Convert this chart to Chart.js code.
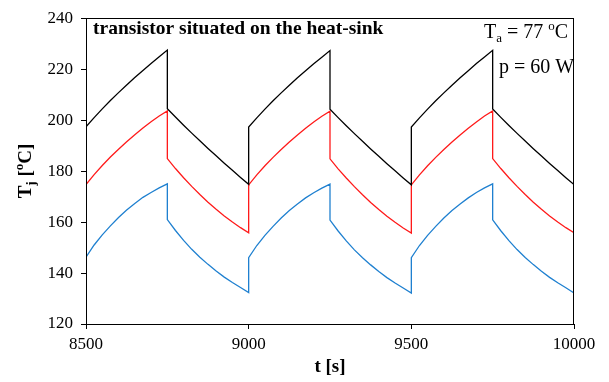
<!DOCTYPE html>
<html>
<head>
<meta charset="utf-8">
<script src="https://cdn.jsdelivr.net/npm/chart.js@4.4.1/dist/chart.umd.min.js"></script>
<style>
  html, body { margin: 0; padding: 0; background: #fff; }
  #wrap { width: 609px; height: 382px; }
</style>
</head>
<body>
<div id="wrap"><canvas id="TjChart" width="609" height="382"></canvas></div>
<script>
// time points [s], duplicated where the power switches (vertical jumps)
const times = [
  8500,
  8500, 8525, 8550, 8575, 8600, 8625, 8650, 8675, 8700, 8725, 8750,
  8750, 8775, 8800, 8825, 8850, 8875, 8900, 8925, 8950, 8975, 9000,
  9000, 9025, 9050, 9075, 9100, 9125, 9150, 9175, 9200, 9225, 9250,
  9250, 9275, 9300, 9325, 9350, 9375, 9400, 9425, 9450, 9475, 9500,
  9500, 9525, 9550, 9575, 9600, 9625, 9650, 9675, 9700, 9725, 9750,
  9750, 9775, 9800, 9825, 9850, 9875, 9900, 9925, 9950, 9975, 10000
];

// junction temperature [oC]
const blackTj = [
  174.8,
  197.4, 201.0, 204.4, 207.7, 210.8, 213.8, 216.7, 219.5, 222.2, 224.9, 227.5,
  204.5, 201.2, 198.0, 194.9, 191.9, 188.9, 186.0, 183.1, 180.3, 177.5, 174.8,
  197.3, 200.9, 204.3, 207.6, 210.7, 213.7, 216.6, 219.4, 222.1, 224.7, 227.3,
  204.3, 201.0, 197.8, 194.7, 191.7, 188.7, 185.8, 182.9, 180.1, 177.3, 174.6,
  197.3, 200.9, 204.3, 207.6, 210.7, 213.7, 216.6, 219.4, 222.2, 224.8, 227.4,
  204.4, 201.1, 197.9, 194.8, 191.8, 188.8, 185.9, 183.0, 180.2, 177.4, 174.7
];
const redTj = [
  158.8,
  174.7, 178.6, 182.2, 185.5, 188.6, 191.5, 194.3, 196.9, 199.4, 201.6, 203.6,
  184.9, 181.0, 177.4, 174.0, 170.8, 167.8, 165.0, 162.4, 160.0, 157.8, 155.8,
  174.6, 178.5, 182.1, 185.4, 188.5, 191.4, 194.2, 196.8, 199.3, 201.5, 203.5,
  184.8, 180.9, 177.3, 173.9, 170.7, 167.7, 164.9, 162.3, 159.9, 157.7, 155.7,
  174.6, 178.5, 182.1, 185.4, 188.5, 191.4, 194.2, 196.8, 199.3, 201.6, 203.6,
  184.9, 181.0, 177.4, 174.0, 170.8, 167.8, 165.0, 162.4, 160.0, 157.8, 155.8
];
const blueTj = [
  132.5,
  146.2, 151.0, 155.0, 158.5, 161.8, 164.7, 167.3, 169.7, 171.6, 173.4, 175.0,
  161.0, 156.7, 152.8, 149.3, 146.2, 143.4, 140.8, 138.4, 136.3, 134.3, 132.3,
  146.0, 150.8, 154.8, 158.3, 161.6, 164.5, 167.1, 169.5, 171.5, 173.3, 174.9,
  160.8, 156.5, 152.6, 149.1, 146.0, 143.2, 140.6, 138.2, 136.1, 134.1, 132.1,
  146.0, 150.8, 154.8, 158.3, 161.6, 164.5, 167.1, 169.5, 171.6, 173.4, 175.0,
  160.9, 156.6, 152.7, 149.2, 146.1, 143.3, 140.7, 138.3, 136.2, 134.2, 132.2
];

const xTicks = [8500, 9000, 9500, 10000];
const yTicks = [120, 140, 160, 180, 200, 220, 240];

const SERIF = "'Liberation Serif', 'Times New Roman', serif";

Chart.defaults.font.family = SERIF;
Chart.defaults.color = "#000";

const toPoints = (vals) => vals.map((v, i) => ({ x: times[i], y: v }));

// frame, y-axis title and the text labels inside the plot
const extrasPlugin = {
  id: "extras",
  afterDraw(chart) {
    const ctx = chart.ctx;
    const a = chart.chartArea;
    ctx.save();

    // box round the plot
    ctx.strokeStyle = "#000";
    ctx.lineWidth = 1;
    ctx.strokeRect(Math.round(a.left) + 0.5, Math.round(a.top) + 0.5,
      Math.round(a.right - a.left) - 1, Math.round(a.bottom - a.top));

    ctx.fillStyle = "#000";
    ctx.textBaseline = "alphabetic";

    // y title: Tj [oC], rotated
    const big = "bold 19px " + SERIF;
    const small = "bold 13px " + SERIF;
    const parts = [
      { t: "T", f: big, dy: 0 },
      { t: "j", f: small, dy: 4 },
      { t: " [", f: big, dy: 0 },
      { t: "o", f: small, dy: -8 },
      { t: "C]", f: big, dy: 0 },
    ];
    let total = 0;
    parts.forEach((p) => { ctx.font = p.f; p.w = ctx.measureText(p.t).width; total += p.w; });
    ctx.translate(31, 171);
    ctx.rotate(-Math.PI / 2);
    let px = -total / 2;
    parts.forEach((p) => { ctx.font = p.f; ctx.fillText(p.t, px, p.dy); px += p.w; });
    ctx.setTransform(1, 0, 0, 1, 0, 0);

    // heading inside the plot
    ctx.font = "bold 19.5px " + SERIF;
    ctx.fillText("transistor situated on the heat-sink", 93, 34);

    // Ta = 77 oC
    const reg = "20px " + SERIF;
    const sub = "13px " + SERIF;
    const ta = [
      { t: "T", f: reg, dy: 0 },
      { t: "a", f: sub, dy: 4 },
      { t: " = 77 ", f: reg, dy: 0 },
      { t: "o", f: sub, dy: -8 },
      { t: "C", f: reg, dy: 0 },
    ];
    let tx = 484;
    ta.forEach((p) => { ctx.font = p.f; ctx.fillText(p.t, tx, 38 + p.dy); tx += ctx.measureText(p.t).width; });

    ctx.font = reg;
    ctx.fillText("p = 60 W", 499, 73);

    ctx.restore();
  },
};

new Chart(document.getElementById("TjChart"), {
  type: "line",
  data: {
    datasets: [
      { label: "black", data: toPoints(blackTj), borderColor: "#000000" },
      { label: "red", data: toPoints(redTj), borderColor: "#ff1a1a" },
      { label: "blue", data: toPoints(blueTj), borderColor: "#1f80d0" },
    ],
  },
  options: {
    responsive: false,
    animation: false,
    elements: {
      line: { borderWidth: 1.3, tension: 0, fill: false },
      point: { radius: 0 },
    },
    layout: { padding: { top: 13, right: 35, left: 0, bottom: 0 } },
    plugins: {
      legend: { display: false },
      tooltip: { enabled: false },
    },
    scales: {
      x: {
        type: "linear",
        min: 8500,
        max: 10000,
        afterBuildTicks: (s) => { s.ticks = xTicks.map((v) => ({ value: v })); },
        afterFit: (s) => { s.height = 58; },
        ticks: {
          color: "#000",
          font: { family: SERIF, size: 17 },
          padding: 5,
          maxRotation: 0,
          callback: (v) => String(v),
        },
        grid: { display: true, drawOnChartArea: false, drawTicks: true, tickLength: 5, color: "#000" },
        border: { display: true, color: "#000", width: 1 },
        title: {
          display: true,
          text: "t [s]",
          color: "#000",
          font: { family: SERIF, size: 19, weight: "bold" },
          padding: { top: 0, bottom: 4 },
        },
      },
      y: {
        min: 120,
        max: 240,
        afterBuildTicks: (s) => { s.ticks = yTicks.map((v) => ({ value: v })); },
        afterFit: (s) => { s.width = 86; },
        ticks: {
          color: "#000",
          font: { family: SERIF, size: 17 },
          padding: 8,
          callback: (v) => String(v),
        },
        grid: { display: true, drawOnChartArea: false, drawTicks: true, tickLength: 5, color: "#000" },
        border: { display: true, color: "#000", width: 1 },
      },
    },
  },
  plugins: [extrasPlugin],
});
</script>
</body>
</html>
